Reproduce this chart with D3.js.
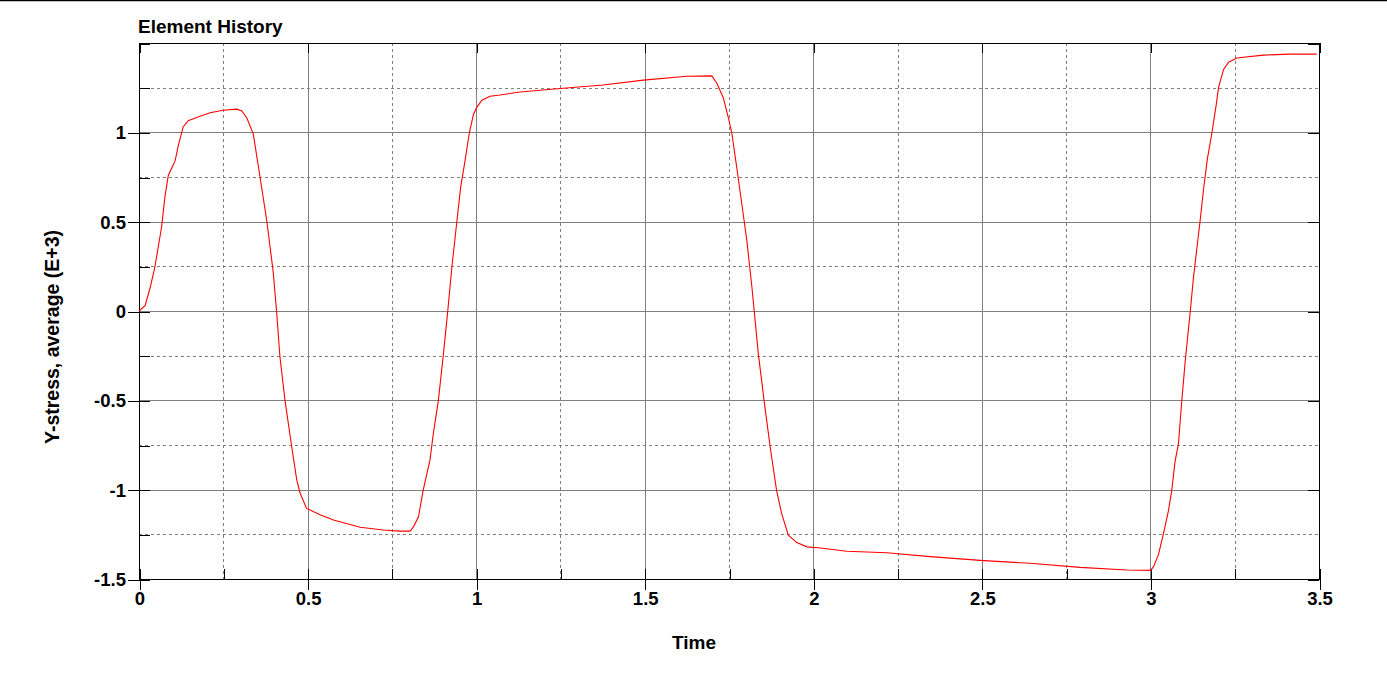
<!DOCTYPE html>
<html>
<head>
<meta charset="utf-8">
<script src="https://cdn.jsdelivr.net/npm/d3@7"></script>
<style>
  html, body { margin: 0; padding: 0; background: #fff; }
  svg { display: block; }
  text { font-family: "Liberation Sans", Arial, sans-serif; font-weight: bold; fill: #000; }
</style>
</head>
<body>
<svg id="chart" width="1387" height="673"></svg>
<script>
// ---- data ----
const chartTitle = "Element History";
const xLabel = "Time";
const yLabel = "Y-stress, average (E+3)";

const xMajorTicks = [0, 0.5, 1, 1.5, 2, 2.5, 3, 3.5];
const xMinorTicks = [0.25, 0.75, 1.25, 1.75, 2.25, 2.75, 3.25];
const yLabelTicks = [-1.5, -1, -0.5, 0, 0.5, 1];
const yMajorTicks = [-1.5, -1, -0.5, 0, 0.5, 1, 1.5];
const yMinorTicks = [-1.25, -0.75, -0.25, 0.25, 0.75, 1.25];

const time = [0, 0.018, 0.033, 0.047, 0.067, 0.077, 0.087, 0.102, 0.107, 0.117,
  0.131, 0.146, 0.181, 0.211, 0.25, 0.29, 0.305, 0.32, 0.339, 0.359,
  0.379, 0.398, 0.408, 0.418, 0.433, 0.453, 0.468, 0.478, 0.497, 0.537,
  0.577, 0.656, 0.725, 0.774, 0.804, 0.814, 0.829, 0.843, 0.863, 0.873,
  0.888, 0.903, 0.915, 0.928, 0.942, 0.954, 0.967, 0.98, 0.992, 1.002,
  1.017, 1.041, 1.071, 1.13, 1.249, 1.377, 1.496, 1.625, 1.699, 1.714,
  1.733, 1.748, 1.758, 1.773, 1.788, 1.803, 1.818, 1.837, 1.854, 1.872,
  1.891, 1.906, 1.926, 1.951, 1.981, 2.015, 2.099, 2.218, 2.347, 2.495,
  2.643, 2.791, 2.93, 3.0, 3.009, 3.024, 3.039, 3.053, 3.063, 3.073,
  3.083, 3.093, 3.103, 3.118, 3.128, 3.138, 3.147, 3.157, 3.169, 3.182,
  3.195, 3.202, 3.217, 3.232, 3.256, 3.335, 3.414, 3.493];
const stress = [0, 0.03, 0.13, 0.245, 0.47, 0.64, 0.76, 0.82, 0.84, 0.93,
  1.03, 1.065, 1.09, 1.11, 1.124, 1.13, 1.12, 1.08, 0.99, 0.75,
  0.505, 0.22, 0.0, -0.255, -0.5, -0.76, -0.947, -1.02, -1.105, -1.14,
  -1.17, -1.21, -1.226, -1.232, -1.232, -1.208, -1.152, -1.003, -0.835, -0.686,
  -0.5, -0.24, -0.016, 0.245, 0.487, 0.692, 0.84, 0.999, 1.10, 1.14,
  1.18, 1.202, 1.209, 1.226, 1.245, 1.265, 1.292, 1.314, 1.316, 1.275,
  1.194, 1.083, 0.999, 0.803, 0.599, 0.394, 0.133, -0.24, -0.5, -0.76,
  -1.003, -1.133, -1.255, -1.296, -1.32, -1.325, -1.345, -1.353, -1.375, -1.396,
  -1.412, -1.435, -1.45, -1.452, -1.432, -1.362, -1.243, -1.122, -1.007, -0.843,
  -0.744, -0.504, -0.284, -0.005, 0.194, 0.354, 0.498, 0.673, 0.853, 0.992,
  1.152, 1.252, 1.352, 1.392, 1.416, 1.432, 1.438, 1.438];

// ---- layout ----
const W = 1387, H = 673;
const m = { left: 139, right: 1319, top: 43, bottom: 579 };
const svg = d3.select("#chart");

const x = d3.scaleLinear().domain([0, 3.5]).range([m.left, m.right]);
const y = d3.scaleLinear().domain([-1.5, 1.5]).range([m.bottom, m.top]);
const fmt = d => String(d);

// page top rule
svg.append("line").attr("x1", 0).attr("x2", W).attr("y1", 0.5).attr("y2", 0.5)
  .attr("stroke", "#000").attr("stroke-width", 1.5);

// gridlines
const grid = svg.append("g").attr("shape-rendering", "crispEdges");
grid.selectAll(".gxm").data(xMinorTicks).join("line")
  .attr("x1", d => Math.round(x(d)) + 0.5).attr("x2", d => Math.round(x(d)) + 0.5)
  .attr("y1", m.top).attr("y2", m.bottom)
  .attr("stroke", "#808080").attr("stroke-dasharray", "3,3");
grid.selectAll(".gym").data(yMinorTicks).join("line")
  .attr("y1", d => Math.round(y(d)) + 0.5).attr("y2", d => Math.round(y(d)) + 0.5)
  .attr("x1", m.left).attr("x2", m.right)
  .attr("stroke", "#808080").attr("stroke-dasharray", "3,3");
grid.selectAll(".gxM").data(xMajorTicks.slice(1, -1)).join("line")
  .attr("x1", d => Math.round(x(d)) + 0.5).attr("x2", d => Math.round(x(d)) + 0.5)
  .attr("y1", m.top).attr("y2", m.bottom)
  .attr("stroke", "#808080");
grid.selectAll(".gyM").data(yMajorTicks.slice(1, -1)).join("line")
  .attr("y1", d => Math.round(y(d)) + 0.5).attr("y2", d => Math.round(y(d)) + 0.5)
  .attr("x1", m.left).attr("x2", m.right)
  .attr("stroke", "#808080");

function styleAxis(g, fontSize) {
  g.select(".domain").remove();
  g.selectAll(".tick line").attr("stroke", "#000").attr("stroke-width", 1);
  g.selectAll("text").attr("font-size", fontSize)
    .attr("font-family", "'Liberation Sans', Arial, sans-serif")
    .attr("font-weight", "bold").attr("fill", "#000");
  g.attr("shape-rendering", "crispEdges");
}

// bottom axis (labels + outer ticks)
svg.append("g").attr("transform", `translate(0.5,${m.bottom})`)
  .call(d3.axisBottom(x).tickValues(xMajorTicks).tickSize(11).tickPadding(2).tickFormat(fmt))
  .call(g => styleAxis(g, 18.5));
// bottom inner ticks
svg.append("g").attr("transform", `translate(0.5,${m.bottom})`)
  .call(d3.axisTop(x).tickValues(xMajorTicks.concat(xMinorTicks)).tickSize(10).tickFormat(""))
  .call(g => styleAxis(g, 0));
// top inner ticks
svg.append("g").attr("transform", `translate(0.5,${m.top})`)
  .call(d3.axisBottom(x).tickValues(xMajorTicks).tickSize(10).tickFormat(""))
  .call(g => styleAxis(g, 0));
// left axis (labels + outer ticks)
svg.append("g").attr("transform", `translate(${m.left},0.5)`)
  .call(d3.axisLeft(y).tickValues(yLabelTicks).tickSize(11).tickPadding(2).tickFormat(fmt))
  .call(g => styleAxis(g, 18.5));
// left inner ticks
svg.append("g").attr("transform", `translate(${m.left},0.5)`)
  .call(d3.axisRight(y).tickValues(yMajorTicks.concat(yMinorTicks)).tickSize(11).tickFormat(""))
  .call(g => styleAxis(g, 0));
// right inner ticks
svg.append("g").attr("transform", `translate(${m.right},0.5)`)
  .call(d3.axisLeft(y).tickValues(yMajorTicks).tickSize(11).tickFormat(""))
  .call(g => styleAxis(g, 0));

// frame
svg.append("rect")
  .attr("x", m.left + 0.5).attr("y", m.top + 0.5)
  .attr("width", m.right - m.left).attr("height", m.bottom - m.top)
  .attr("fill", "none").attr("stroke", "#000").attr("stroke-width", 1.2)
  .attr("shape-rendering", "crispEdges");

// data line
const pts = time.map((t, i) => [t, stress[i]]);
svg.append("path")
  .datum(pts)
  .attr("fill", "none")
  .attr("stroke", "#ff0000")
  .attr("stroke-width", 1.1)
  .attr("d", d3.line().x(d => x(d[0])).y(d => y(d[1])));

// title and axis titles
svg.append("text").attr("x", 138).attr("y", 33)
  .attr("font-size", 19).text(chartTitle);
svg.append("text").attr("x", 694).attr("y", 649).attr("text-anchor", "middle")
  .attr("font-size", 19).text(xLabel);
svg.append("text").attr("transform", "translate(59,337) rotate(-90)")
  .attr("text-anchor", "middle").attr("font-size", 19.5).text(yLabel);
</script>
</body>
</html>
